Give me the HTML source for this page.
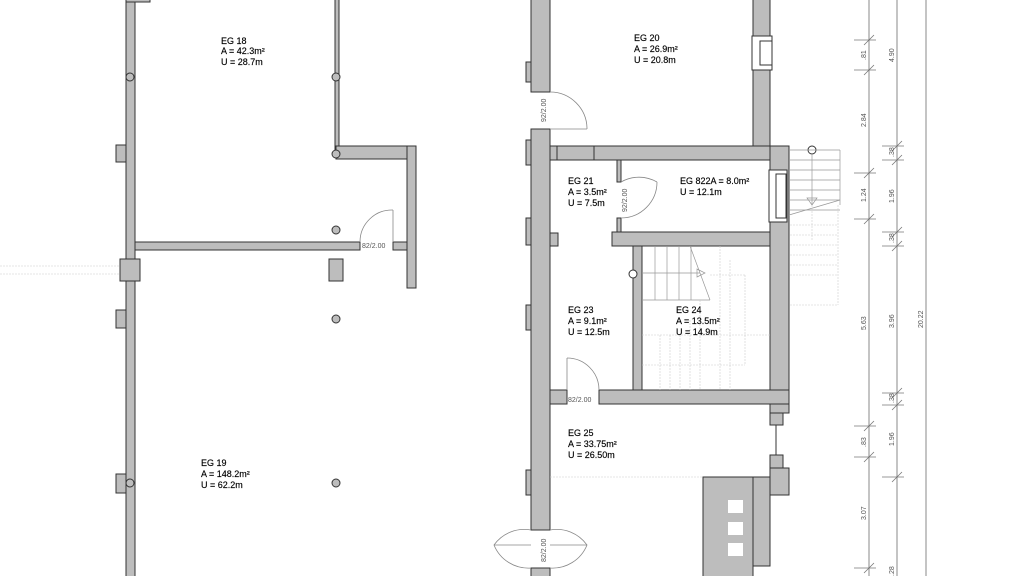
<!DOCTYPE html>
<html><head><meta charset="utf-8"><style>
html,body{margin:0;padding:0;background:#fff;}
svg{display:block;}
text{font-family:"Liberation Sans",sans-serif;font-size:9px;fill:#000;stroke:#000;stroke-width:0.15;}
.t{font-size:7px;fill:#555;stroke:none;}
</style></head><body>
<svg width="1024" height="576" viewBox="0 0 1024 576" xmlns="http://www.w3.org/2000/svg">
<g fill="#bdbdbd" stroke="#333" stroke-width="1">
<rect x="126" y="-2" width="9" height="580"/>
<rect x="126" y="-2" width="24" height="4"/>
<rect x="116" y="145" width="10" height="17"/>
<rect x="120" y="259" width="20" height="22"/>
<rect x="116" y="310" width="10" height="18"/>
<rect x="116" y="474" width="10" height="19"/>
<rect x="335" y="-2" width="4" height="155"/>
<rect x="336" y="146" width="80" height="13"/>
<rect x="407" y="146" width="9" height="142"/>
<rect x="135" y="242" width="225" height="8"/>
<rect x="393" y="242" width="14" height="8"/>
<rect x="329" y="259" width="14" height="22"/>
<rect x="531" y="-2" width="19" height="94"/>
<rect x="526" y="62" width="5" height="20"/>
<rect x="531" y="129" width="19" height="401"/>
<rect x="526" y="140" width="5" height="25"/>
<rect x="526" y="218" width="5" height="27"/>
<rect x="550" y="233" width="8" height="13"/>
<rect x="526" y="305" width="5" height="25"/>
<rect x="526" y="470" width="5" height="25"/>
<rect x="531" y="568" width="19" height="10"/>
<rect x="753" y="-2" width="17" height="150"/>
<rect x="550" y="146" width="239" height="14"/>
<rect x="617" y="160" width="4" height="22"/>
<rect x="617" y="218" width="4" height="14"/>
<rect x="612" y="232" width="177" height="14"/>
<rect x="770" y="146" width="19" height="267"/>
<rect x="633" y="246" width="9" height="144"/>
<rect x="550" y="390" width="17" height="14"/>
<rect x="599" y="390" width="190" height="14"/>
<rect x="770" y="413" width="13" height="12"/>
<rect x="770" y="455" width="13" height="15"/>
<rect x="770" y="468" width="19" height="27"/>
<rect x="703" y="477" width="50" height="101"/>
<rect x="753" y="477" width="17" height="89"/>
</g>
<g fill="#fff" stroke="#333" stroke-width="1">
<rect x="752" y="36" width="20" height="34"/>
<rect x="760" y="41" width="12" height="24"/>
<rect x="769" y="170" width="18" height="52"/>
<rect x="776" y="174" width="10" height="44"/>
<rect x="728" y="500" width="15" height="13" stroke="none"/>
<rect x="728" y="522" width="15" height="13" stroke="none"/>
<rect x="728" y="543" width="15" height="13" stroke="none"/>
</g>
<g stroke="#333" stroke-width="1">
<line x1="557" y1="146" x2="557" y2="160"/><line x1="594" y1="146" x2="594" y2="160"/>
<line x1="776" y1="425" x2="776" y2="455"/>
</g>
<g fill="#bdbdbd" stroke="#333" stroke-width="1">
<circle cx="130" cy="77" r="4"/><circle cx="336" cy="77" r="4"/><circle cx="336" cy="154" r="4"/>
<circle cx="336" cy="230" r="4"/><circle cx="336" cy="319" r="4"/><circle cx="336" cy="483" r="4"/>
<circle cx="130" cy="483" r="4"/><circle cx="633" cy="274" r="4" fill="#fff"/><circle cx="812" cy="150" r="4" fill="#fff"/>
</g>
<g fill="none" stroke="#888" stroke-width="0.8">
<path d="M393 210 A32 32 0 0 0 360 242"/><line x1="393" y1="210" x2="393" y2="242"/>
<path d="M550 92 A37 37 0 0 1 587 129"/><line x1="550" y1="129" x2="587" y2="129"/>
<path d="M621 182 A36 36 0 0 1 657 182"/><path d="M621 218 A36 36 0 0 0 657 182"/>
<path d="M567 358 A32 32 0 0 1 599 390"/><line x1="567" y1="358" x2="567" y2="390"/>
<path d="M531 530 A37 37 0 0 0 494 545 A37 37 0 0 0 531 568"/><path d="M550 530 A37 37 0 0 1 587 545 A37 37 0 0 1 550 568"/>
<line x1="494" y1="545" x2="531" y2="545"/><line x1="550" y1="545" x2="587" y2="545"/>
</g>
<g stroke="#999" stroke-width="0.7" fill="none">
<line x1="789" y1="160" x2="840" y2="160"/><line x1="789" y1="170" x2="840" y2="170"/><line x1="789" y1="180" x2="840" y2="180"/>
<line x1="789" y1="190" x2="840" y2="190"/><line x1="789" y1="200" x2="840" y2="200"/><line x1="789" y1="210" x2="840" y2="210"/>
<line x1="789" y1="150" x2="840" y2="150"/><line x1="840" y1="150" x2="840" y2="205"/>
<line x1="789" y1="215" x2="840" y2="200"/><line x1="812" y1="154" x2="812" y2="205"/>
<path d="M807 198 L817 198 L812 205 Z"/>
<line x1="643" y1="300" x2="710" y2="300"/><line x1="710" y1="300" x2="690" y2="246"/>
<line x1="655" y1="246" x2="655" y2="300"/><line x1="667" y1="246" x2="667" y2="300"/><line x1="679" y1="246" x2="679" y2="300"/><line x1="691" y1="246" x2="691" y2="300"/>
<line x1="643" y1="273" x2="700" y2="273"/><path d="M697 269 L705 273 L697 277 Z"/>
</g>
<g stroke="#ccc" stroke-width="0.6" fill="none" stroke-dasharray="2,1">
<line x1="790" y1="225" x2="838" y2="225"/><line x1="790" y1="235" x2="838" y2="235"/><line x1="790" y1="245" x2="838" y2="245"/>
<line x1="790" y1="255" x2="838" y2="255"/><line x1="790" y1="265" x2="838" y2="265"/><line x1="790" y1="275" x2="838" y2="275"/>
<line x1="790" y1="305" x2="838" y2="305"/><line x1="838" y1="205" x2="838" y2="305"/><line x1="812" y1="205" x2="812" y2="240"/>
<line x1="642" y1="335" x2="770" y2="335"/><line x1="642" y1="365" x2="745" y2="365"/><line x1="710" y1="275" x2="745" y2="275"/><line x1="745" y1="275" x2="745" y2="365"/>
<line x1="720" y1="246" x2="720" y2="390"/><line x1="730" y1="260" x2="730" y2="390"/><line x1="700" y1="300" x2="700" y2="390"/>
<line x1="690" y1="320" x2="690" y2="390"/><line x1="680" y1="335" x2="680" y2="390"/><line x1="670" y1="335" x2="670" y2="390"/><line x1="660" y1="335" x2="660" y2="390"/>
<line x1="550" y1="477" x2="703" y2="477"/>
<line x1="0" y1="266" x2="120" y2="266"/><line x1="0" y1="274" x2="120" y2="274"/>
</g>
<g stroke="#888" stroke-width="1">
<line x1="869" y1="0" x2="869" y2="576"/><line x1="897" y1="0" x2="897" y2="576"/><line x1="926" y1="0" x2="926" y2="576"/>
</g>
<g stroke="#777" stroke-width="0.8">
<path d="M854 40h22M864 45l10-10M854 70h22M864 75l10-10M854 173h22M864 178l10-10M854 219h22M864 224l10-10M854 426h22M864 431l10-10M854 457h22M864 462l10-10M854 568h22M864 573l10-10"/>
<path d="M882 146h22M892 151l10-10M882 160h22M892 165l10-10M882 232h22M892 237l10-10M882 246h22M892 251l10-10M882 393h22M892 398l10-10M882 405h22M892 410l10-10M882 477h22M892 482l10-10"/>
</g>
<g>
<text class="t" transform="translate(866,60) rotate(-90)">.81</text>
<text class="t" transform="translate(866,127) rotate(-90)">2.84</text>
<text class="t" transform="translate(866,202) rotate(-90)">1.24</text>
<text class="t" transform="translate(866,330) rotate(-90)">5.63</text>
<text class="t" transform="translate(866,447) rotate(-90)">.83</text>
<text class="t" transform="translate(866,520) rotate(-90)">3.07</text>
<text class="t" transform="translate(894,62) rotate(-90)">4.90</text>
<text class="t" transform="translate(894,157) rotate(-90)">.38</text>
<text class="t" transform="translate(894,203) rotate(-90)">1.96</text>
<text class="t" transform="translate(894,243) rotate(-90)">.38</text>
<text class="t" transform="translate(894,328) rotate(-90)">3.96</text>
<text class="t" transform="translate(894,403) rotate(-90)">.38</text>
<text class="t" transform="translate(894,446) rotate(-90)">1.96</text>
<text class="t" transform="translate(894,576) rotate(-90)">.28</text>
<text class="t" transform="translate(923,328) rotate(-90)">20.22</text>
<text class="t" x="362" y="248">82/2.00</text>
<text class="t" x="568" y="402">82/2.00</text>
<text class="t" transform="translate(546,122) rotate(-90)">92/2.00</text>
<text class="t" transform="translate(627,212) rotate(-90)">92/2.00</text>
<text class="t" transform="translate(546,562) rotate(-90)">82/2.00</text>
</g>
<text x="221" y="44">EG 18</text><text x="221" y="54">A = 42.3m²</text><text x="221" y="65">U = 28.7m</text>
<text x="201" y="466">EG 19</text><text x="201" y="477">A = 148.2m²</text><text x="201" y="488">U = 62.2m</text>
<text x="634" y="41">EG 20</text><text x="634" y="52">A = 26.9m²</text><text x="634" y="63">U = 20.8m</text>
<text x="568" y="184">EG 21</text><text x="568" y="195">A = 3.5m²</text><text x="568" y="206">U = 7.5m</text>
<text x="680" y="184">EG 822A = 8.0m²</text><text x="680" y="195">U = 12.1m</text>
<text x="568" y="313">EG 23</text><text x="568" y="324">A = 9.1m²</text><text x="568" y="335">U = 12.5m</text>
<text x="676" y="313">EG 24</text><text x="676" y="324">A = 13.5m²</text><text x="676" y="335">U = 14.9m</text>
<text x="568" y="436">EG 25</text><text x="568" y="447">A = 33.75m²</text><text x="568" y="458">U = 26.50m</text>
</svg>
</body></html>
